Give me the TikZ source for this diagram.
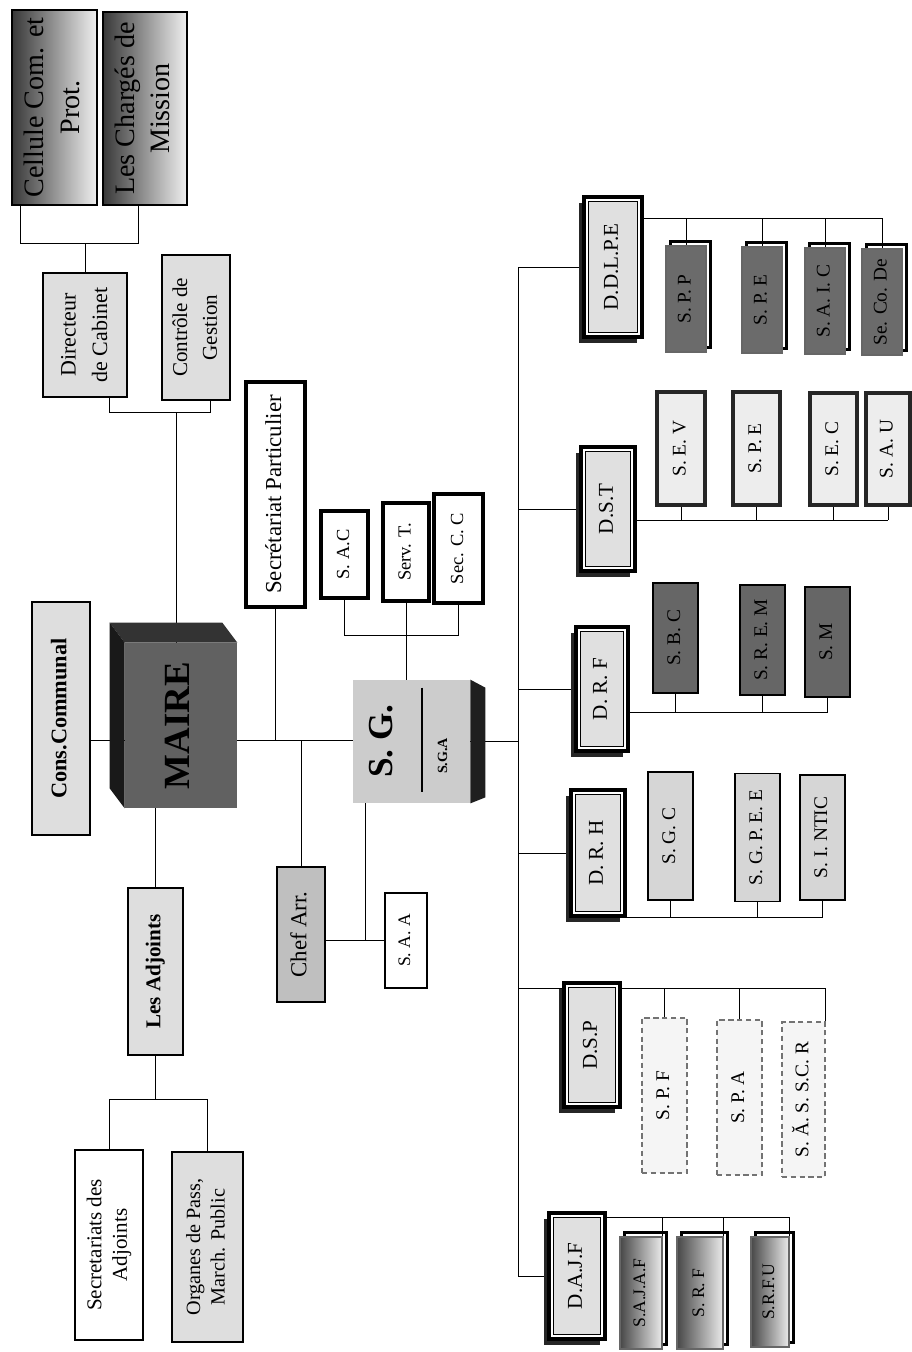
\documentclass[tikz,border=0pt]{standalone}
\usepackage{fontspec}
\setmainfont{Liberation Serif}
\usepackage{graphicx}
\usepackage{tikz}
\usetikzlibrary{calc,backgrounds,shadows}
\newcommand{\vtext}[1]{\rotatebox{90}{\begin{tabular}{@{}c@{}}#1\end{tabular}}}
\tikzset{
  bx/.style={draw,line width=0.7pt,inner sep=1pt},
  sz/.style 2 args={minimum width=#1*0.2mm,minimum height=#2*0.2mm},
  fs/.style 2 args={font=\fontsize{#1}{#2}\selectfont},
  fb/.style 2 args={font=\fontsize{#1}{#2}\selectfont\bfseries},
  lt/.style={bx,fill=black!13},
  wh/.style={bx,fill=white},
  thk/.style={bx,fill=white,line width=1.8pt},
  grd/.style={bx,left color=black!78,right color=black!6},
  dirb/.style={draw,line width=2.4pt,fill=white,inner sep=1pt,fs={12}{14},
    general shadow={fill=black!85,shadow xshift=-1.1mm,shadow yshift=-1.1mm},
    path picture={\draw[line width=0.6pt,fill=black!12] ([shift={(2.8pt,2.8pt)}]path picture bounding box.south west) rectangle ([shift={(-2.8pt,-2.8pt)}]path picture bounding box.north east);}},
  brk/.style={bx,draw=black!60,fs={11}{13},general shadow={draw=black,line width=1.4pt,shadow xshift=0.9mm,shadow yshift=0.9mm}},
  sdk/.style={brk,fill=black!58},
  sgr/.style={brk,left color=black!72,right color=black!8,fs={10}{12}},
  sdt/.style={bx,fill=black!7,draw=black!85,line width=2pt,fs={11}{13}},
  sdf/.style={bx,fill=black!60,line width=0.9pt,fs={11}{13}},
  sdh/.style={bx,fill=black!16,line width=0.9pt,fs={11}{13}},
  sdp/.style={bx,fill=black!4,draw=black!55,densely dashed,fs={11}{13}},
  ln/.style={line width=0.8pt}
}
\begin{document}
\begin{tikzpicture}[x=0.2mm,y=-0.2mm]
\useasboundingbox (0,0) rectangle (912,1352);
% cabinet
\node[grd,sz={85}{195},fs={16}{20}] (cel) at (54.5,107.5) {\vtext{Cellule Com. et\\Prot.}};
\node[grd,sz={84}{193},fs={16}{20}] (chg) at (145,108.5) {\vtext{Les Chargés de\\Mission}};
\node[lt,sz={84}{124},fs={12.5}{18}] (dir) at (85,335) {\vtext{Directeur\\de Cabinet}};
\node[lt,sz={68}{145},fs={12}{17}] (cg) at (196,327.5) {\vtext{Contrôle de\\Gestion}};
\node[thk,sz={59}{225},fs={13}{16}] (spart) at (275.5,494.5) {\vtext{Secrétariat Particulier}};
\node[thk,sz={47}{87},fs={10.5}{13}] (sac) at (344.5,554.5) {\vtext{S. A.C}};
\node[thk,sz={46}{98},fs={10.5}{13}] (servt) at (406,552) {\vtext{Serv. T.}};
\node[thk,sz={49}{109},fs={10.5}{13}] (seccc) at (458.5,548.5) {\vtext{Sec. C. C}};
\node[lt,sz={58}{233},fb={12.7}{15}] (cc) at (61,718.5) {\vtext{Cons.Communal}};
% maire
\node[fill=black!62,inner sep=0,sz={112}{165},fb={21}{24}] (maire) at (181,725.5) {\vtext{MAIRE}};
\fill[black!80] (maire.north west) -- ++(-15,-20) -- ($(maire.north east)+(-15,-20)$) -- (maire.north east) -- cycle;
\fill[black!90] (maire.north west) -- ++(-15,-20) -- ($(maire.south west)+(-15,-20)$) -- (maire.south west) -- cycle;
\node[lt,sz={55}{167},fb={12}{14}] (adj) at (155.5,971.5) {\vtext{Les Adjoints}};
\node[wh,sz={68}{190},fs={12}{14.5}] (sda) at (109,1245) {\vtext{Secretariats des\\Adjoints}};
\node[lt,sz={71}{190},fs={11.5}{14}] (org) at (207.5,1247) {\vtext{Organes de Pass,\\March. Public}};
\node[bx,fill=black!25,sz={48}{135},fs={13}{15}] (chef) at (301,934.5) {\vtext{Chef Arr.}};
\node[wh,sz={42}{95},fs={10}{12}] (saa) at (406,940.5) {\vtext{S. A. A}};
% secretaire general
\node[fill=black!20,inner sep=0,sz={117}{123}] (sg) at (411.5,741.5) {};
\fill[black!88] (sg.north east) -- ++(15,8) -- ($(sg.south east)+(15,-6)$) -- (sg.south east) -- cycle;
\draw[line width=0.8pt] ($(sg.north)+(10.5,8)$) -- ($(sg.south)+(10.5,-11)$);
\node[fb={20}{22},inner sep=0] (sgt) at (385,741) {\vtext{S. G.}};
\node[fb={8}{9},inner sep=0] (sga) at (444,756) {\vtext{S.G.A}};
% directions
\node[dirb,sz={58}{140}] (ddlpe) at (613,267) {\vtext{D.D.L.P.E}};
\node[dirb,sz={54}{124}] (dst) at (608,509) {\vtext{D.S.T}};
\node[dirb,sz={52}{124}] (drf) at (602,689) {\vtext{D. R. F}};
\node[dirb,sz={54}{126}] (drh) at (598,853) {\vtext{D. R. H}};
\node[dirb,sz={56}{124}] (dsp) at (592,1045) {\vtext{D.S.P}};
\node[dirb,sz={56}{126}] (dajf) at (577,1276) {\vtext{D.A.J.F}};
% services
\node[sdk,sz={40}{106}] (spp) at (686,299) {\vtext{S. P. P}};
\node[sdk,sz={40}{106}] (spe1) at (762,300) {\vtext{S. P. E}};
\node[sdk,sz={40}{106}] (saic) at (825,301) {\vtext{S. A. I. C}};
\node[sdk,sz={40}{106}] (secode) at (882,302) {\vtext{Se. Co. De}};
\node[sdt,sz={48}{113}] (sev) at (681,448.5) {\vtext{S. E. V}};
\node[sdt,sz={47}{113}] (spe2) at (756.5,448.5) {\vtext{S. P. E}};
\node[sdt,sz={47}{112}] (sec) at (833.5,449) {\vtext{S. E. C}};
\node[sdt,sz={44}{112}] (sau) at (888,449) {\vtext{S. A. U}};
\node[sdf,sz={45}{110}] (sbc) at (675.5,638) {\vtext{S. B. C}};
\node[sdf,sz={45}{110}] (srem) at (762.5,640) {\vtext{S. R. E. M}};
\node[sdf,sz={45}{110}] (sm) at (827.5,642) {\vtext{S. M}};
\node[sdh,sz={45}{128}] (sgc) at (670.5,836) {\vtext{S. G. C}};
\node[sdh,sz={45}{128}] (sgpee) at (757.5,837.5) {\vtext{S. G. P. E. E}};
\node[sdh,sz={45}{125}] (sintic) at (822.5,837.5) {\vtext{S. I. NTIC}};
\node[sdp,sz={45}{155}] (spf) at (664.5,1095.5) {\vtext{S. P. F}};
\node[sdp,sz={45}{155}] (spa) at (739.5,1097.5) {\vtext{S. P. A}};
\node[sdp,sz={43}{155}] (sasscr) at (803.5,1099.5) {\vtext{S. Ă. S. S.C. R}};
\node[sgr,sz={42}{112}] (sajaf) at (641,1293) {\vtext{S.A.J.A.F}};
\node[sgr,sz={46}{112}] (srf) at (700,1293) {\vtext{S. R. F}};
\node[sgr,sz={38}{110}] (srfu) at (770,1292) {\vtext{S.R.F.U}};
% connectors
\coordinate (bTl) at (20,243);
\coordinate (bTr) at (138,243);
\coordinate (bMl) at (109,412);
\coordinate (bMr) at (210,412);
\coordinate (bMm) at (176,412);
\coordinate (hM) at (0,740);
\coordinate (bS) at (0,635);
\coordinate (jS) at (365,940);
\coordinate (bAd) at (0,1099);
\coordinate (spine) at (518,0);
\coordinate (bA) at (0,218);
\coordinate (bB) at (0,520);
\coordinate (bC) at (0,712);
\coordinate (bD) at (0,917);
\coordinate (bE) at (0,988);
\coordinate (bF) at (0,1217);
\begin{scope}[on background layer,ln]
\draw (cel.south -| bTl) -- (bTl) -- (bTr) -- (chg.south -| bTr);
\draw (dir.north) -- (dir.north |- bTl);
\draw (dir.south -| bMl) -- (bMl) -- (bMr) -- (cg.south -| bMr);
\draw (bMm) -- (bMm |- maire.center);
\draw (cc.east |- hM) -- (sg.west |- hM);
\foreach \n in {spart,chef} \draw (\n) -- (\n |- hM);
\draw (maire.south -| adj.north) -- (adj.north);
\draw (adj.south) -- (adj.south |- bAd);
\draw (sda.north) -- (sda.north |- bAd) -- (org.north |- bAd) -- (org.north);
\draw (sac.south) -- (sac.south |- bS) -- (seccc.south |- bS) -- (seccc.south);
\draw (servt.south) -- (servt.south |- sg.north);
\draw (sg.south -| jS) -- (jS);
\draw (chef.east |- jS) -- (saa.west |- jS);
\draw (sg.east) -- (sg.east -| spine);
\draw (ddlpe.west) -- (ddlpe.west -| spine) -- (dajf.west -| spine) -- (dajf.west);
\foreach \d in {dst,drf,drh} \draw (\d.west) -- (\d.west -| spine);
\draw (ddlpe.east |- bA) -- (secode.north |- bA);
\foreach \n in {spp,spe1,saic,secode} \draw (\n.north) -- (\n.north |- bA);
\draw (dst.east |- bB) -- (sau.south |- bB);
\foreach \n in {sev,spe2,sec,sau} \draw (\n.south) -- (\n.south |- bB);
\draw (drf.east |- bC) -- (sm.south |- bC);
\foreach \n in {sbc,srem,sm} \draw (\n.south) -- (\n.south |- bC);
\draw (drh.east |- bD) -- (sintic.south |- bD);
\foreach \n in {sgc,sgpee,sintic} \draw (\n.south) -- (\n.south |- bD);
\draw (bE -| spine) -- (sasscr.north east |- bE) -- (sasscr.north east);
\foreach \n in {spf,spa} \draw (\n.north) -- (\n.north |- bE);
\draw (dajf.east |- bF) -- (srfu.north east |- bF);
\foreach \n in {sajaf,srf,srfu} \draw (\n.north east) -- (\n.north east |- bF);
\end{scope}
\end{tikzpicture}
\end{document}
